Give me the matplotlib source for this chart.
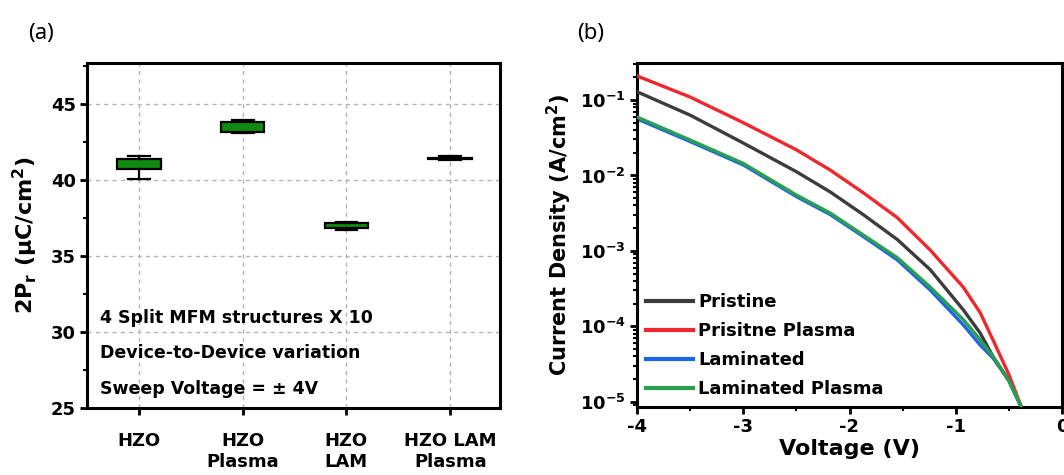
import numpy as np
import matplotlib
matplotlib.use("Agg")
import matplotlib.pyplot as plt
from matplotlib.ticker import MultipleLocator, LogLocator, NullFormatter, FixedLocator

# ---------------- data: panel (a) box statistics ----------------
categories = ["HZO", "HZO\nPlasma", "HZO\nLAM", "HZO LAM\nPlasma"]
whisker_low = [40.1, 43.1, 36.7, 41.3]
q1_vals = [40.7, 43.15, 36.85, 41.40]
median_vals = [41.0, 43.5, 37.0, 41.44]
q3_vals = [41.4, 43.85, 37.15, 41.48]
whisker_high = [41.6, 43.95, 37.25, 41.58]
annotation_lines = ["4 Split MFM structures X 10",
                    "Device-to-Device variation",
                    "Sweep Voltage = \u00b1 4V"]

# ---------------- data: panel (b) J-V curves (log10 of A/cm^2) ----------------
voltage = [-4.0, -3.5, -3.0, -2.5, -2.18, -1.87, -1.55, -1.24, -0.93, -0.77, -0.65, -0.5, -0.38]
log_pristine = [-0.89, -1.20, -1.57, -1.95, -2.22, -2.52, -2.85, -3.25, -3.78, -4.09, -4.40, -4.72, -5.08]
log_pristine_plasma = [-0.68, -0.96, -1.30, -1.66, -1.93, -2.23, -2.56, -2.99, -3.48, -3.82, -4.18, -4.64, -5.08]
log_laminated = [-1.25, -1.55, -1.86, -2.28, -2.52, -2.81, -3.12, -3.52, -3.98, -4.25, -4.42, -4.72, -5.08]
log_laminated_plasma = [-1.225, -1.53, -1.84, -2.26, -2.50, -2.79, -3.09, -3.48, -3.91, -4.18, -4.40, -4.72, -5.08]
series_labels = ["Pristine", "Prisitne Plasma", "Laminated", "Laminated Plasma"]
series_colors = ["#3c3c3c", "#f0282d", "#1e64e6", "#28a050"]
xtick_values = [-4, -3, -2, -1, 0]
ytick_values = [1e-5, 1e-4, 1e-3, 1e-2, 1e-1]
ytick_labels = [r"$\mathbf{10^{-5}}$", r"$\mathbf{10^{-4}}$", r"$\mathbf{10^{-3}}$",
                r"$\mathbf{10^{-2}}$", r"$\mathbf{10^{-1}}$"]

plt.rcParams['font.family'] = ['DejaVu Sans']
plt.rcParams['mathtext.fontset'] = 'dejavusans'

fig = plt.figure(figsize=(10.64, 4.75), dpi=100)
W, H = 1064, 475

def add_ax(l, r, t, b):
    return fig.add_axes([l / W, 1 - b / H, (r - l) / W, (b - t) / H])

# ---------------- panel (a) ----------------
axa = add_ax(87, 500, 63, 408)
pos = np.arange(1, len(categories) + 1)
stats = []
for i in range(len(categories)):
    stats.append(dict(med=median_vals[i], q1=q1_vals[i], q3=q3_vals[i],
                      whislo=whisker_low[i], whishi=whisker_high[i], fliers=[]))
axa.bxp(stats, positions=pos, widths=0.42, patch_artist=True, showfliers=False,
        boxprops=dict(facecolor="#108a10", edgecolor="black", linewidth=1.6),
        whiskerprops=dict(color="black", linewidth=1.6),
        capprops=dict(color="black", linewidth=1.6),
        medianprops=dict(linewidth=0), capwidths=0.21, zorder=3)
axa.set_xlim(0.5, 4.48)
axa.set_ylim(25, 47.7)
axa.yaxis.set_major_locator(MultipleLocator(5))
axa.yaxis.set_minor_locator(MultipleLocator(2.5))
axa.set_xticks(pos)
axa.set_xticklabels(categories, fontsize=13, fontweight='bold', linespacing=1.25)
for lab in axa.get_yticklabels():
    lab.set_fontsize(13)
    lab.set_fontweight('bold')
axa.grid(True, which='major', color='#b4b4b4', linestyle=(0, (3, 3)), linewidth=1.0)
axa.set_axisbelow(True)
axa.tick_params(axis='both', which='major', direction='out', length=5, width=2, pad=3)
axa.tick_params(axis='x', which='major', pad=12)
axa.tick_params(axis='y', which='minor', direction='out', length=3, width=1.5)
for s in axa.spines.values():
    s.set_linewidth(2.2)
axa.set_ylabel(r"2P$_\mathbf{r}$ ($\mathbf{\mu}$C/cm$^\mathbf{2}$)", fontsize=16,
               fontweight='bold', labelpad=8)
for k, line in enumerate(annotation_lines):
    axa.text(0.032, 0.262 - k * 0.103, line, transform=axa.transAxes,
             fontsize=12.5, fontweight='bold', va='center', ha='left')
fig.text(28 / W, 1 - 33 / H, "(a)", fontsize=16, family='Noto Sans', fontweight='medium',
         va='center', ha='left')

# ---------------- panel (b) ----------------
axb = add_ax(637, 1062, 63, 407)
for lv, lab, col, z in zip([log_pristine, log_pristine_plasma, log_laminated, log_laminated_plasma],
                           series_labels, series_colors, [3, 4, 2, 5]):
    axb.plot(voltage, 10 ** np.array(lv), color=col, linewidth=2.4, label=lab, zorder=z,
             solid_joinstyle='round')
axb.set_yscale('log')
axb.set_xlim(-4, 0)
axb.set_ylim(8.5e-6, 0.31)
axb.xaxis.set_major_locator(FixedLocator(xtick_values))
axb.xaxis.set_minor_locator(MultipleLocator(0.5))
axb.yaxis.set_major_locator(FixedLocator(ytick_values))
axb.yaxis.set_minor_locator(LogLocator(base=10, subs=np.arange(2, 10) * 1.0, numticks=20))
axb.yaxis.set_minor_formatter(NullFormatter())
axb.set_yticklabels(ytick_labels, fontsize=13)
axb.set_xticklabels([str(v) for v in xtick_values], fontsize=13, fontweight='bold')
axb.tick_params(axis='both', which='major', direction='out', length=5, width=2, pad=3)
axb.tick_params(axis='both', which='minor', direction='out', length=3, width=1.5)
for s in axb.spines.values():
    s.set_linewidth(2.2)
axb.set_xlabel("Voltage (V)", fontsize=16, fontweight='bold', labelpad=2)
axb.set_ylabel(r"Current Density (A/cm$^\mathbf{2}$)", fontsize=15, fontweight='bold', labelpad=4)
leg = axb.legend(loc='lower left', frameon=False, handlelength=2.6,
                 handletextpad=0.3, labelspacing=0.6, borderaxespad=0.1,
                 prop=dict(weight='bold', size=13))
for h in leg.get_lines():
    h.set_linewidth(3)
fig.text(577 / W, 1 - 33 / H, "(b)", fontsize=16, family='Noto Sans', fontweight='medium',
         va='center', ha='left')

fig.savefig("out.png", dpi=100)
